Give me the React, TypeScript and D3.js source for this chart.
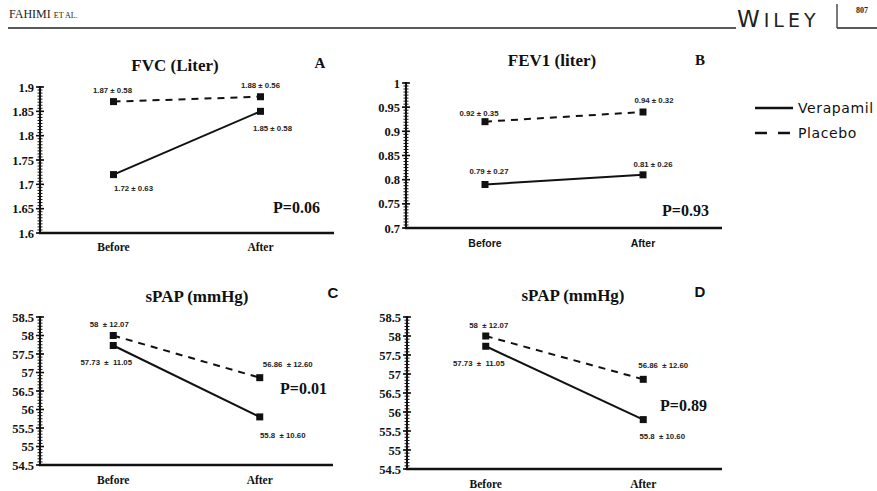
import React, { useEffect, useRef } from 'react';
import * as d3 from 'd3';

const categories = ['Before', 'After'];
const seriesNames = ['Verapamil', 'Placebo'];
const panelTitles = ['FVC (Liter)', 'FEV1 (liter)', 'sPAP (mmHg)', 'sPAP (mmHg)'];
const panelLetters = ['A', 'B', 'C', 'D'];
const pValues = ['P=0.06', 'P=0.93', 'P=0.01', 'P=0.89'];
const verapamilValues = [[1.72, 1.85], [0.79, 0.81], [57.73, 55.8], [57.73, 55.8]];
const placeboValues = [[1.87, 1.88], [0.92, 0.94], [58, 56.86], [58, 56.86]];
const verapamilLabels = [
  ['1.72 ± 0.63', '1.85 ± 0.58'],
  ['0.79 ± 0.27', '0.81 ± 0.26'],
  ['57.73  ±  11.05', '55.8  ± 10.60'],
  ['57.73  ±  11.05', '55.8  ± 10.60'],
];
const placeboLabels = [
  ['1.87 ± 0.58', '1.88 ± 0.56'],
  ['0.92 ± 0.35', '0.94 ± 0.32'],
  ['58  ± 12.07', '56.86  ± 12.60'],
  ['58  ± 12.07', '56.86  ± 12.60'],
];
const yDomains = [[1.6, 1.9], [0.7, 1], [54.5, 58.5], [54.5, 58.5]];
const ySteps = [0.05, 0.05, 0.5, 0.5];

// layout of each panel (pixels)
const frames = [
  { l: 40, r: 334, t: 87, b: 233, title: [175, 71], letter: [320, 68], p: [273, 213], cat: 251, minor: 8, catSans: false, letterSans: false,
    offV: [[20, 14], [12, 17]], offP: [[-1, -11], [0, -11]] },
  { l: 406, r: 722, t: 83, b: 228, title: [552, 66], letter: [700, 65], p: [662, 216], cat: 247, minor: 8, catSans: true, letterSans: false,
    offV: [[4, -13], [10, -11]], offP: [[-6, -8], [11, -12]] },
  { l: 40, r: 333, t: 317, b: 465, title: [197, 302], letter: [333, 298], p: [280, 394], cat: 484, minor: 6, catSans: false, letterSans: true,
    offV: [[-7, 17], [23, 18]], offP: [[-4, -11], [28, -13]] },
  { l: 407, r: 722, t: 317, b: 469, title: [573, 301], letter: [700, 297], p: [660, 411], cat: 488, minor: 6, catSans: false, letterSans: true,
    offV: [[-7, 17], [19, 17]], offP: [[3, -11], [20, -14]] },
];

const serif = '"Liberation Serif", "Times New Roman", serif';
const sans = '"Liberation Sans", Arial, sans-serif';

const App = () => {
  const ref = useRef<SVGSVGElement>(null);

  useEffect(() => {
    const svg = d3.select(ref.current);
    svg.selectAll('*').remove();
    svg.append('rect').attr('width', 877).attr('height', 491).attr('fill', '#fff');

    // page header
    const head = svg.append('g');
    const fa = head.append('text').attr('x', 9).attr('y', 18).attr('font-family', serif).attr('fill', '#222');
    fa.append('tspan').attr('font-size', 12).text('FAHIMI ');
    fa.append('tspan').attr('font-size', 8).text('ET AL.');
    head.append('line').attr('x1', 8).attr('x2', 736).attr('y1', 28).attr('y2', 28).attr('stroke', '#222').attr('stroke-width', 1.6);
    const wl = head.append('text').attr('x', 737).attr('y', 27).attr('font-family', '"DejaVu Sans", sans-serif')
      .attr('letter-spacing', 4).attr('fill', '#222');
    wl.append('tspan').attr('font-size', 23).text('W');
    wl.append('tspan').attr('font-size', 19).text('ILEY');
    head.append('line').attr('x1', 837).attr('x2', 837).attr('y1', 4).attr('y2', 28).attr('stroke', '#222').attr('stroke-width', 1.2);
    head.append('line').attr('x1', 837).attr('x2', 877).attr('y1', 28).attr('y2', 28).attr('stroke', '#222').attr('stroke-width', 1.6);
    head.append('text').attr('x', 856).attr('y', 13).attr('font-family', serif).attr('font-weight', 'bold').attr('font-size', 8)
      .attr('fill', '#222').text('807');

    frames.forEach((f, i) => {
      const g = svg.append('g');
      const x = d3.scalePoint<string>().domain(categories).range([f.l, f.r]).padding(0.5);
      const y = d3.scaleLinear().domain(yDomains[i]).range([f.b, f.t]);
      const [lo, hi] = yDomains[i];
      const step = ySteps[i];
      const major = d3.range(lo, hi + step / 100, step);
      const minor = d3.range(lo, hi + step / 100, step / f.minor);

      // minor ticks
      g.append('g').selectAll('line').data(minor).join('line')
        .attr('x1', f.l - 2.5).attr('x2', f.l + 2.5)
        .attr('y1', d => y(d)).attr('y2', d => y(d))
        .attr('stroke', '#111').attr('stroke-width', 1);

      // major ticks + labels
      g.append('g').selectAll('line').data(major).join('line')
        .attr('x1', f.l - 4).attr('x2', f.l + 4)
        .attr('y1', d => y(d)).attr('y2', d => y(d))
        .attr('stroke', '#111').attr('stroke-width', 1.6);
      g.append('g').selectAll('text').data(major).join('text')
        .attr('x', f.l - 6).attr('y', d => y(d) + 4.5).attr('text-anchor', 'end')
        .attr('font-family', serif).attr('font-weight', 'bold').attr('font-size', 12.5).attr('fill', '#111')
        .text(d => String(+d.toFixed(2)));

      g.append('line').attr('x1', f.l).attr('x2', f.l).attr('y1', f.t - 1).attr('y2', f.b)
        .attr('stroke', '#111').attr('stroke-width', 2);

      // x axis line
      g.append('line').attr('x1', f.l - 1).attr('x2', f.r).attr('y1', f.b).attr('y2', f.b)
        .attr('stroke', '#111').attr('stroke-width', 2.5);
      g.selectAll('.cat').data(categories).join('text').attr('class', 'cat')
        .attr('x', d => x(d)!).attr('y', f.cat).attr('text-anchor', 'middle')
        .attr('font-family', f.catSans ? sans : serif).attr('font-weight', 'bold')
        .attr('font-size', f.catSans ? 10.5 : 11.5).attr('fill', '#111').text(d => d);

      const lineGen = d3.line<number>().x((_, j) => x(categories[j])!).y(d => y(d));
      const series = [
        { vals: verapamilValues[i], labels: verapamilLabels[i], dash: null, off: f.offV },
        { vals: placeboValues[i], labels: placeboLabels[i], dash: '7,6', off: f.offP },
      ];
      series.forEach(s => {
        g.append('path').attr('d', lineGen(s.vals)).attr('fill', 'none').attr('stroke', '#111')
          .attr('stroke-width', 2).attr('stroke-dasharray', s.dash);
        g.append('g').selectAll('rect').data(s.vals).join('rect')
          .attr('x', (_, j) => x(categories[j])! - 3.5).attr('y', d => y(d) - 3.5)
          .attr('width', 7).attr('height', 7).attr('fill', '#111');
        g.append('g').selectAll('text').data(s.vals).join('text')
          .attr('x', (_, j) => x(categories[j])! + s.off[j][0])
          .attr('y', (d, j) => y(d) + s.off[j][1] + 2.7)
          .attr('text-anchor', 'middle').attr('font-family', sans).attr('font-weight', 'bold')
          .attr('font-size', 7.8).attr('fill', '#222')
          .style('white-space', 'pre')
          .text((_, j) => s.labels[j]);
      });

      g.append('text').attr('x', f.title[0]).attr('y', f.title[1]).attr('text-anchor', 'middle')
        .attr('font-family', serif).attr('font-weight', 'bold').attr('font-size', 17).attr('fill', '#111')
        .text(panelTitles[i]);
      g.append('text').attr('x', f.letter[0]).attr('y', f.letter[1]).attr('text-anchor', 'middle')
        .attr('font-family', f.letterSans ? sans : serif).attr('font-weight', 'bold').attr('font-size', 15)
        .attr('fill', '#111').text(panelLetters[i]);
      g.append('text').attr('x', f.p[0]).attr('y', f.p[1])
        .attr('font-family', serif).attr('font-weight', 'bold').attr('font-size', 16).attr('fill', '#111')
        .text(pValues[i]);
    });

    // legend
    const leg = svg.append('g');
    seriesNames.forEach((name, k) => {
      const ly = 108 + k * 25;
      leg.append('line').attr('x1', 755).attr('x2', 793).attr('y1', ly).attr('y2', ly)
        .attr('stroke', '#111').attr('stroke-width', 2.5).attr('stroke-dasharray', k === 0 ? null : '12,11');
      leg.append('text').attr('x', 798).attr('y', ly + 5).attr('font-family', '"DejaVu Sans", sans-serif')
        .attr('font-size', 14).attr('letter-spacing', 0.6).attr('fill', '#111').text(name);
    });
  }, []);

  return (
    <svg ref={ref} width={877} height={491} style={{ position: 'absolute', left: 0, top: 0 }}></svg>
  );
};

export default App;
